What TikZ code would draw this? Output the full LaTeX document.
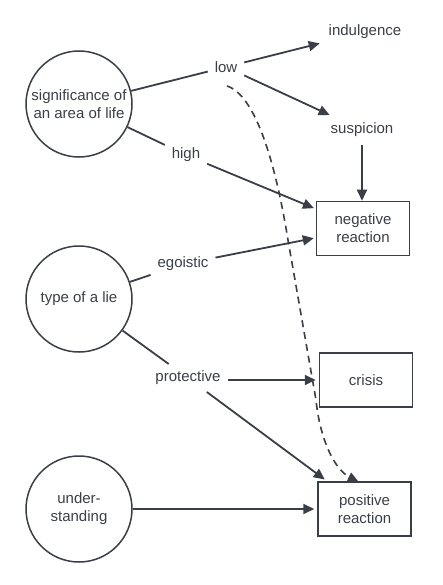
\documentclass[tikz,border=0pt]{standalone}
\usepackage{fontspec}
\setmainfont{Liberation Sans}
\usetikzlibrary{arrows.meta}
\definecolor{ink}{RGB}{58,62,70}
\begin{document}
\begin{tikzpicture}[x=1pt,y=-1pt,
  every node/.style={text=ink,font=\fontsize{15}{18}\selectfont},
  factor/.style={circle,draw=ink,line width=1.5pt,minimum size=106pt,inner sep=0pt,align=center},
  outcome/.style={rectangle,draw=ink,line width=1.5pt,minimum width=93pt,minimum height=54pt,align=center},
  lbl/.style={inner sep=1pt,outer sep=6pt},
  conn/.style={draw=ink,line width=1.8pt},
  arr/.style={conn,-{Triangle[length=11pt,width=10pt]}},
]
\useasboundingbox (0,0) rectangle (443,585);
% factors
\node[factor] (sig) at (79,104) {significance of\\an area of life};
\node[factor] (type) at (79,299) {type of a lie};
\node[factor] (und) at (79,509) {under-\\standing};
% labels
\node[lbl] (low) at (226,67) {low};
\node[lbl] (high) at (186,155) {high};
\node[lbl] (ego) at (183,264) {egoistic};
\node[lbl] (prot) at (188,378) {protective};
\node[lbl,outer sep=8pt] (ind) at (365,32) {indulgence};
\node[lbl,outer sep=7pt] (susp) at (362,130) {suspicion};
% outcomes
\node[outcome] (neg) at (363,228.5) {negative\\reaction};
\node[outcome] (cri) at (366,380) {crisis};
\node[outcome] (pos) at (364.5,509) {positive\\reaction};
% connectors
\draw[conn] (sig) -- (low);
\draw[conn] (sig) -- (high);
\draw[arr] (low) -- (ind);
\draw[arr] (low) -- (susp);
\draw[arr] (susp) -- (susp |- neg.north);
\draw[arr,shorten >=2pt] (high) -- (neg);
\draw[conn] (type) -- (ego);
\draw[arr,shorten >=2pt] (ego) -- (neg);
\draw[conn] (type) -- (prot);
\draw[arr,shorten >=3pt] (prot.east |- cri.west) -- (cri.west);
\draw[arr,shorten >=3pt] (prot) -- (pos);
\draw[arr,shorten >=3pt] (und) -- (pos);
% dashed
\coordinate (ds) at (227,86);
\coordinate (dm1) at (288,240);
\coordinate (dm2) at (316,400);
\coordinate (de) at (358,481);
\draw[conn,line width=1.6pt,dash pattern=on 7pt off 5pt,-{Triangle[length=10pt,width=9pt]}]
  (ds) .. controls (255,95) and (275,160) .. (dm1) -- (dm2)
  .. controls (320,440) and (335,470) .. (de);
\end{tikzpicture}
\end{document}
